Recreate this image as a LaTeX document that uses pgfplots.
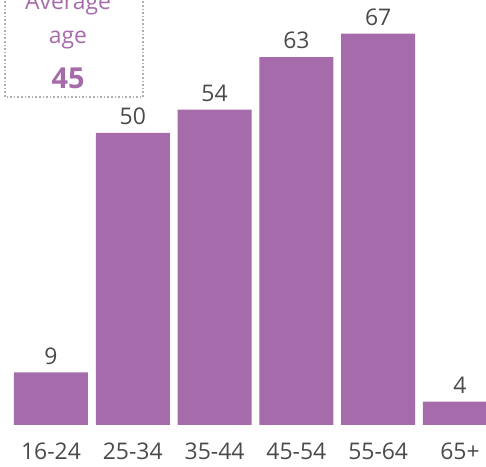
\documentclass[border=0pt]{standalone}
\usepackage{pgfplots}
\pgfplotsset{compat=1.18}
\usepackage{fontspec}
\setmainfont{Open Sans}
\definecolor{barpurple}{HTML}{A66BAB}
\definecolor{labelgray}{HTML}{4A4A4A}
\definecolor{boxgray}{HTML}{B0B0B0}
\begin{document}
\begin{tikzpicture}
  \begin{axis}[
    at={(0bp,42bp)}, anchor=south west,
    scale only axis,
    width=486bp, height=425bp,
    xmin=-0.623, xmax=5.318,
    ymin=0, ymax=72.77,
    ybar, bar width=0.905,
    axis line style={draw=none},
    major tick length=0pt,
    ytick=\empty,
    xtick=data,
    xticklabels={16-24,25-34,35-44,45-54,55-64,65+},
    xticklabel style={font=\fontsize{23}{23}\selectfont, text=labelgray,
      inner sep=0pt, yshift=-17.5bp},
    /pgf/number format/assume math mode=true,
    nodes near coords,
    nodes near coords style={font=\fontsize{23}{23}\selectfont,
      text=labelgray, inner sep=0pt, anchor=south, yshift=8bp},
    clip=false,
  ]
    \addplot[fill=barpurple, draw=none] coordinates {
      (0,9) (1,50) (2,54) (3,63) (4,67) (5,4)
    };
  \end{axis}
  % average-age callout
  \draw[boxgray, line width=1.6bp, dash pattern=on 1.6bp off 2bp]
    (5bp,480bp) -- (5bp,370bp) -- (143bp,370bp) -- (143bp,480bp);
  \node[anchor=base, text=barpurple, font=\fontsize{23}{23}\selectfont, inner sep=0]
    at (68bp,457bp) {Average};
  \node[anchor=base, text=barpurple, font=\fontsize{23}{23}\selectfont, inner sep=0]
    at (68bp,423bp) {age};
  \node[anchor=base, text=barpurple, font=\bfseries\fontsize{29}{29}\selectfont, inner sep=0]
    at (68bp,378bp) {45};
  % fixed page: 486 x 467
  \pgfresetboundingbox
  \useasboundingbox (0bp,0bp) rectangle (486bp,467bp);
\end{tikzpicture}
\end{document}
